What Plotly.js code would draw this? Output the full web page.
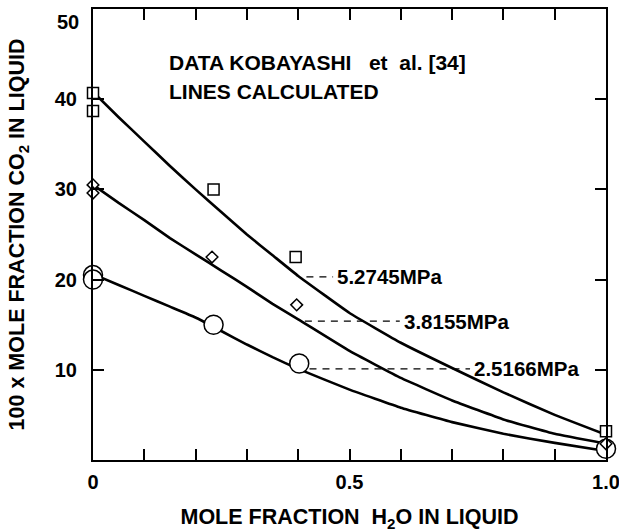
<!DOCTYPE html>
<html>
<head>
<meta charset="utf-8">
<script src="https://cdn.plot.ly/plotly-3.0.1.min.js"></script>
<style>html,body{margin:0;padding:0;background:#fff;}#chart{width:619px;height:532px;}</style>
</head>
<body>
<div id="chart"></div>
<script>
// ---- data ----
const pressures = ["5.2745MPa", "3.8155MPa", "2.5166MPa"];

// measured points (Kobayashi et al.)
const sqX = [0, 0, 0.235, 0.395, 1.0];
const sqY = [40.7, 38.7, 30.0, 22.5, 3.2];
const diX = [0, 0, 0.232, 0.397, 1.0];
const diY = [30.5, 29.6, 22.5, 17.2, 1.8];
const ciX = [0, 0, 0.235, 0.402, 1.0];
const ciY = [20.5, 20.0, 15.0, 10.7, 1.25];

// calculated lines
const lineX = [0, 0.05, 0.1, 0.15, 0.2, 0.25, 0.3, 0.35, 0.4, 0.5, 0.6, 0.7, 0.8, 0.9, 1.0];
const line5274 = [40.8, 38.0, 35.3, 32.6, 30.0, 27.5, 25.0, 22.7, 20.4, 16.3, 13.0, 10.2, 7.5, 5.0, 2.8];
const line3816 = [30.5, 28.5, 26.6, 24.6, 22.8, 21.0, 19.2, 17.3, 15.6, 12.1, 9.1, 6.6, 4.5, 2.9, 1.8];
const line2517 = [20.6, 19.4, 18.2, 17.0, 15.8, 14.3, 12.8, 11.4, 10.1, 7.8, 5.8, 4.2, 2.9, 1.9, 1.0];

// pressure label positions (leader start, leader end / text start, level)
const leaderX0 = [0.416, 0.413, 0.422];
const leaderX1 = [0.468, 0.598, 0.735];
const labelY = [20.3, 15.4, 10.1];

// ticks
const xTickVals = [0, 0.5, 1.0];
const xTickText = ["0", "0.5", "1.0"];
const xMinorVals = [0.1, 0.2, 0.3, 0.4, 0.6, 0.7, 0.8, 0.9];
const yTickVals = [10, 20, 30, 40];
const yTickText = ["10", "20", "30", "40"];
const yTopTick = 50;          // top label sits just below the frame in the reference
const yTopText = "50";

const noteLines = ["DATA KOBAYASHI\u00A0\u00A0\u00A0et\u00A0\u00A0al.\u00A0[34]", "LINES CALCULATED"];
const noteX = 0.144;
const noteY = [44.1, 40.9];

// ---- build ----
const FONT = "Liberation Sans, Arial, Helvetica, sans-serif";
const lineStyle = {color: "#000", width: 2.6, shape: "spline", smoothing: 0.3};

const traces = [
  {x: lineX, y: line5274, mode: "lines", line: lineStyle, hoverinfo: "skip", cliponaxis: false},
  {x: lineX, y: line3816, mode: "lines", line: lineStyle, hoverinfo: "skip", cliponaxis: false},
  {x: lineX, y: line2517, mode: "lines", line: lineStyle, hoverinfo: "skip", cliponaxis: false},
];

// leader lines
for (let i = 0; i < pressures.length; i++) {
  traces.push({
    x: [leaderX0[i], leaderX1[i]], y: [labelY[i], labelY[i]],
    mode: "lines", line: {color: "#000", width: 1.2, dash: "7px,6px"},
    hoverinfo: "skip", cliponaxis: false
  });
}

traces.push(
  {x: ciX, y: ciY, mode: "markers", cliponaxis: false,
   marker: {symbol: "circle", size: 19, color: "#fff", line: {color: "#000", width: 1.5}}},
  {x: diX, y: diY, mode: "markers", cliponaxis: false,
   marker: {symbol: "diamond", size: 9, color: "#fff", line: {color: "#000", width: 1.5}}},
  {x: sqX, y: sqY, mode: "markers", cliponaxis: false,
   marker: {symbol: "square", size: 11, color: "#fff", line: {color: "#000", width: 1.5}}}
);

const annotations = [];
for (let i = 0; i < pressures.length; i++) {
  annotations.push({
    x: leaderX1[i], y: labelY[i], xref: "x", yref: "y",
    text: pressures[i], showarrow: false, xanchor: "left", yanchor: "middle",
    xshift: 2, font: {family: FONT, size: 20.5, color: "#000", weight: "bold"}
  });
}
for (let i = 0; i < noteLines.length; i++) {
  annotations.push({
    x: noteX, y: noteY[i], xref: "x", yref: "y",
    text: noteLines[i], showarrow: false, xanchor: "left", yanchor: "middle",
    font: {family: FONT, size: 21, color: "#000", weight: "bold"}
  });
}
// top y label, nudged below the frame as in the reference
annotations.push({
  x: 0, y: yTopTick, xref: "x", yref: "y", text: yTopText, showarrow: false,
  xanchor: "right", yanchor: "top", xshift: -12, yshift: 0,
  font: {family: FONT, size: 20, color: "#000", weight: "bold"}
});

const axisCommon = {
  showgrid: false, zeroline: false, showline: true, linecolor: "#000", linewidth: 2,
  mirror: "ticks", ticks: "inside", ticklen: 11, tickwidth: 2, tickcolor: "#000",
  ticklabeloverflow: "allow",
  tickfont: {family: FONT, size: 20, color: "#000", weight: "bold"}
};

const layout = {
  width: 619, height: 532,
  margin: {l: 93, r: 13, t: 9, b: 72},
  paper_bgcolor: "#fff", plot_bgcolor: "#fff",
  showlegend: false,
  font: {family: FONT, color: "#000", weight: "bold"},
  xaxis: Object.assign({}, axisCommon, {
    range: [0, 1], tickmode: "array", tickvals: xTickVals, ticktext: xTickText,
    ticklabelstandoff: 3,
    minor: {tickmode: "array", tickvals: xMinorVals, ticks: "inside", ticklen: 11,
            tickwidth: 2, tickcolor: "#000", showgrid: false},
    title: {text: "MOLE FRACTION\u00A0\u00A0H<sub>2</sub>O IN LIQUID", standoff: 18,
            font: {family: FONT, size: 21.5, color: "#000", weight: "bold"}}
  }),
  yaxis: Object.assign({}, axisCommon, {
    range: [0, 50], tickmode: "array", tickvals: yTickVals, ticktext: yTickText,
    ticklabelstandoff: 10,
    minor: {tickmode: "array", tickvals: [yTopTick], ticks: "inside", ticklen: 11,
            tickwidth: 2, tickcolor: "#000", showgrid: false},
    title: {text: "100 x MOLE FRACTION CO<sub>2</sub> IN LIQUID", standoff: 24,
            font: {family: FONT, size: 21.5, color: "#000", weight: "bold"}}
  }),
  annotations: annotations
};

Plotly.newPlot("chart", traces, layout, {displayModeBar: false, staticPlot: true});
</script>
</body>
</html>
